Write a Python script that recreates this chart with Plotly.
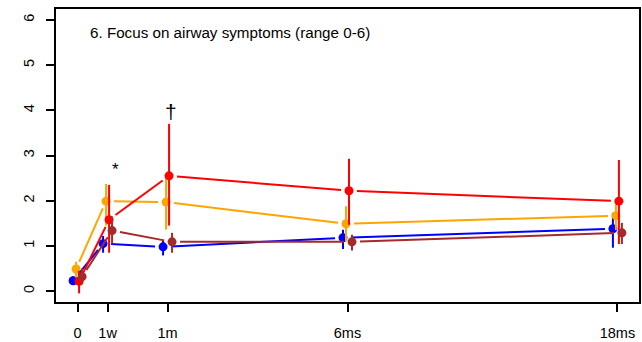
import plotly.graph_objects as go

# Time points (plot positions) and labels
time_pos = [0, 1, 3, 9, 18]
time_labels = ["0", "1w", "1m", "6ms", "18ms"]

# Series: means and interval bounds
blue_mean = [0.23, 1.05, 0.98, 1.18, 1.38]
blue_lo = [0.15, 0.85, 0.79, 0.93, 0.96]
blue_hi = [0.33, 1.22, 1.12, 1.36, 1.73]

orange_mean = [0.49, 1.99, 1.97, 1.49, 1.67]
orange_lo = [0.30, 1.45, 1.36, 1.10, 1.35]
orange_hi = [0.65, 2.37, 2.54, 1.88, 1.95]

red_mean = [0.22, 1.58, 2.55, 2.22, 1.99]
red_lo = [-0.05, 0.85, 1.45, 1.47, 1.04]
red_hi = [0.45, 2.35, 3.70, 2.93, 2.90]

brown_mean = [0.32, 1.34, 1.09, 1.09, 1.29]
brown_lo = [0.15, 1.05, 0.85, 0.90, 1.04]
brown_hi = [0.50, 1.65, 1.29, 1.25, 1.51]

series = [
    ("blue", "#0000FF", -0.15, blue_mean, blue_lo, blue_hi),
    ("orange", "#FFA500", -0.05, orange_mean, orange_lo, orange_hi),
    ("red", "#FF0000", 0.05, red_mean, red_lo, red_hi),
    ("brown", "#A52A2A", 0.15, brown_mean, brown_lo, brown_hi),
]

XR = [-0.72, 18.72]
YR = [-0.24, 6.24]
W, H = 642, 342
ML, MR, MT, MB = 56, 1, 9, 37
sx = (W - ML - MR) / (XR[1] - XR[0])   # px per x unit
sy = (H - MT - MB) / (YR[1] - YR[0])   # px per y unit
GAP = 8.0  # px gap between connecting segments and points (R type="b")

fig = go.Figure()
for name, col, off, m, lo, hi in series:
    xs = [t + off for t in time_pos]
    # connecting segments with gaps around points
    segx, segy = [], []
    for i in range(len(xs) - 1):
        dx = (xs[i + 1] - xs[i]) * sx
        dy = (m[i + 1] - m[i]) * sy
        d = (dx * dx + dy * dy) ** 0.5
        if d <= 2 * GAP:
            continue
        fx, fy = dx / d * GAP / sx, dy / d * GAP / sy
        segx += [xs[i] + fx, xs[i + 1] - fx, None]
        segy += [m[i] + fy, m[i + 1] - fy, None]
    fig.add_trace(go.Scatter(x=segx, y=segy, mode="lines", line=dict(color=col, width=2),
                             showlegend=False, hoverinfo="skip"))
    fig.add_trace(go.Scatter(
        x=xs, y=m, mode="markers", name=name,
        marker=dict(color=col, size=9),
        error_y=dict(type="data", symmetric=False,
                     array=[h - v for h, v in zip(hi, m)],
                     arrayminus=[v - l for v, l in zip(m, lo)],
                     color=col, thickness=2, width=0),
        showlegend=False,
    ))

fig.add_annotation(x=0.35, y=5.72, xref="x", yref="y", text="6. Focus on airway symptoms (range 0-6)",
                   showarrow=False, xanchor="left", yanchor="middle",
                   font=dict(family="Liberation Sans", size=15.2, color="#000000"))
fig.add_annotation(x=1.25, y=2.7, xref="x", yref="y", text="*", showarrow=False,
                   font=dict(family="Liberation Sans", size=17, color="#000000"))
fig.add_annotation(x=3.12, y=3.98, xref="x", yref="y", text="†", showarrow=False,
                   font=dict(family="Liberation Sans", size=21, color="#000000"))

fig.update_xaxes(range=XR, tickmode="array", tickvals=time_pos, ticktext=time_labels,
                 showgrid=False, zeroline=False, showline=True, mirror=True,
                 linecolor="#000000", linewidth=2, ticks="outside", ticklen=8, tickwidth=2,
                 tickcolor="#000000", ticklabelstandoff=9,
                 tickfont=dict(family="Liberation Sans", size=14.5, color="#000000"))
fig.update_yaxes(range=YR, tickmode="array", tickvals=[0, 1, 2, 3, 4, 5, 6],
                 showgrid=False, zeroline=False, showline=True, mirror=True,
                 linecolor="#000000", linewidth=2, ticks="outside", ticklen=8, tickwidth=2,
                 tickcolor="#000000", tickangle=-90, ticklabelstandoff=6,
                 tickfont=dict(family="Liberation Sans", size=14.5, color="#000000"))

fig.update_layout(width=W, height=H, margin=dict(l=ML, r=MR, t=MT, b=MB),
                  plot_bgcolor="white", paper_bgcolor="white")

fig.write_html("out.html")
